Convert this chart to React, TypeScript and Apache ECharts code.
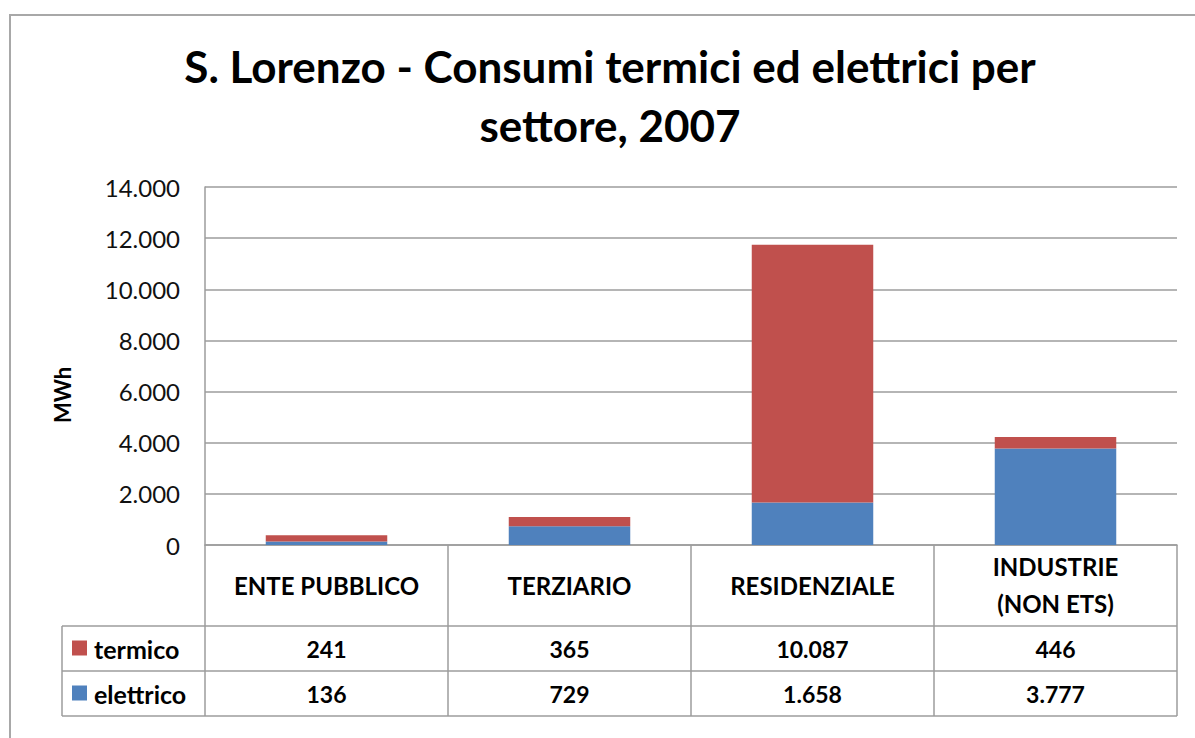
import React, { useEffect, useRef } from 'react';
import * as echarts from 'echarts';

const categories = ['ENTE PUBBLICO', 'TERZIARIO', 'RESIDENZIALE', 'INDUSTRIE\n(NON ETS)'];
const termico = [241, 365, 10087, 446];
const elettrico = [136, 729, 1658, 3777];
const seriesNames = ['termico', 'elettrico'];
const seriesColors = ['#C0504D', '#4F81BD'];
const yMin = 0;
const yMax = 14000;
const yInterval = 2000;
const titleText = 'S. Lorenzo - Consumi termici ed elettrici per\nsettore, 2007';
const yName = 'MWh';

const FONT = 'Lato, "Open Sans", sans-serif';
const LINE = '#9c9c9c';

const fmt = (v: number) => String(v).replace(/\B(?=(\d{3})+(?!\d))/g, '.');

export default function App() {
  const ref = useRef<HTMLDivElement>(null);
  useEffect(() => {
    document.body.style.margin = '0';
    const chart = echarts.init(ref.current!, undefined, { renderer: 'svg' });
    const gridLeft = 205, gridRight = 1177, gridTop = 187, gridBottom = 545;
    const row1 = 626, row2 = 671, row3 = 716, legendLeft = 62;
    chart.setOption({
      animation: false,
      backgroundColor: '#fff',
      title: {
        text: titleText,
        left: 605,
        top: 31,
        textAlign: 'center',
        textStyle: { fontFamily: FONT, fontSize: 44, fontWeight: 'bold', color: '#000', lineHeight: 59 },
      },
      grid: { left: gridLeft, right: 1195 - gridRight, top: gridTop, bottom: 738 - gridBottom, containLabel: false },
      xAxis: {
        type: 'category',
        data: categories,
        axisLine: { lineStyle: { color: LINE, width: 1.5 } },
        axisTick: { show: true, length: row3 - gridBottom, lineStyle: { color: LINE, width: 1.5 } },
        axisLabel: {
          margin: 40,
          verticalAlign: 'middle',
          fontFamily: FONT,
          fontSize: 24,
          fontWeight: 'bold',
          color: '#000',
          lineHeight: 37,
        },
      },
      yAxis: {
        type: 'value',
        min: yMin,
        max: yMax,
        interval: yInterval,
        axisLine: { show: true, lineStyle: { color: LINE, width: 1.5 } },
        axisTick: { show: false },
        splitLine: { lineStyle: { color: LINE, width: 1.5 } },
        axisLabel: { formatter: (v: number) => fmt(v), fontFamily: FONT, fontSize: 24, color: '#111', margin: 25 },
      },
      series: [
        { name: seriesNames[1], type: 'bar', stack: 'tot', data: elettrico, barWidth: '50%', itemStyle: { color: seriesColors[1] } },
        { name: seriesNames[0], type: 'bar', stack: 'tot', data: termico, barWidth: '50%', itemStyle: { color: seriesColors[0] } },
      ],
    });

    const xs = categories.map((_, i) => chart.convertToPixel({ xAxisIndex: 0 }, i) as number);
    const rows = [termico, elettrico];
    const rowMid = [(row1 + row2) / 2, (row2 + row3) / 2];
    const graphics: any[] = [
      { type: 'rect', shape: { x: 10, y: 15, width: 1200, height: 740 }, style: { fill: 'none', stroke: '#a8a8a8', lineWidth: 2 }, z: 100 },
      { type: 'line', shape: { x1: legendLeft, y1: row1, x2: gridRight, y2: row1 }, style: { stroke: LINE, lineWidth: 1.5 } },
      { type: 'line', shape: { x1: legendLeft, y1: row2, x2: gridRight, y2: row2 }, style: { stroke: LINE, lineWidth: 1.5 } },
      { type: 'line', shape: { x1: legendLeft, y1: row3, x2: gridRight, y2: row3 }, style: { stroke: LINE, lineWidth: 1.5 } },
      { type: 'line', shape: { x1: legendLeft, y1: row1, x2: legendLeft, y2: row3 }, style: { stroke: LINE, lineWidth: 1.5 } },
      {
        type: 'text', x: 62, y: 395, rotation: Math.PI / 2,
        style: { text: yName, fontFamily: FONT, fontSize: 22, fontWeight: 'bold', fill: '#000', align: 'center', verticalAlign: 'middle' },
      },
    ];
    rows.forEach((vals, r) => {
      graphics.push({ type: 'rect', shape: { x: 72, y: rowMid[r] - 8, width: 15, height: 15 }, style: { fill: seriesColors[r] } });
      graphics.push({
        type: 'text', x: 94, y: rowMid[r],
        style: { text: seriesNames[r], fontFamily: FONT, fontSize: 25, fontWeight: 'bold', fill: '#000', align: 'left', verticalAlign: 'middle' },
      });
      vals.forEach((v, i) => {
        graphics.push({
          type: 'text', x: xs[i], y: rowMid[r],
          style: { text: fmt(v), fontFamily: FONT, fontSize: 23, fontWeight: 'bold', fill: '#000', align: 'center', verticalAlign: 'middle' },
        });
      });
    });
    chart.setOption({ graphic: graphics });
    return () => chart.dispose();
  }, []);
  return <div ref={ref} style={{ position: 'fixed', left: 0, top: 0, width: 1195, height: 738 }} />;
}
